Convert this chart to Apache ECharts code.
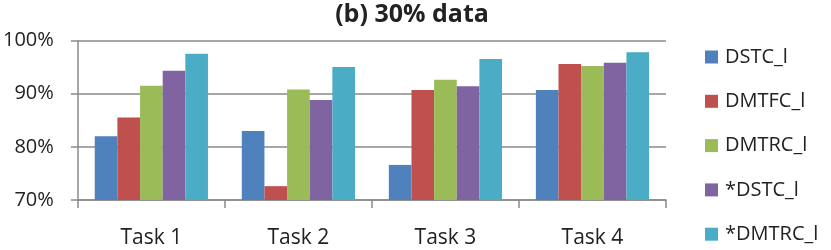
<!DOCTYPE html>
<html><head><meta charset="utf-8">
<script src="https://cdn.jsdelivr.net/npm/echarts@6/dist/echarts.min.js"></script>
<style>html,body{margin:0;padding:0;background:#fff}#c{width:831px;height:250px}</style>
</head><body><div id="c"></div>
<script>
const categories = ['Task 1', 'Task 2', 'Task 3', 'Task 4'];
const seriesNames = ['DSTC_l', 'DMTFC_l', 'DMTRC_l', '*DSTC_l', '*DMTRC_l'];
const DSTC_l = [82.0, 83.0, 76.6, 90.7];
const DMTFC_l = [85.5, 72.6, 90.7, 95.6];
const DMTRC_l = [91.5, 90.8, 92.6, 95.2];
const starDSTC_l = [94.3, 88.8, 91.4, 95.8];
const starDMTRC_l = [97.5, 95.0, 96.5, 97.8];
const yTicks = { min: 70, max: 100, interval: 10 };
const colors = ['#4F81BD', '#C0504D', '#9BBB59', '#8064A2', '#4BACC6'];
const seriesData = [DSTC_l, DMTFC_l, DMTRC_l, starDSTC_l, starDMTRC_l];
const FONT = 'Open Sans';
const chart = echarts.init(document.getElementById('c'));
chart.setOption({
  animation: false,
  color: colors,
  title: { text: '(b) 30% data', left: 412, top: 2, textAlign: 'center', padding: 0,
    textStyle: { fontFamily: FONT, fontSize: 25, fontWeight: 'bold', color: '#222' } },
  legend: { orient: 'vertical', left: 705, top: 46, padding: 0, itemWidth: 13, itemHeight: 13, itemGap: 22.3,
    icon: 'rect', data: seriesNames, height: 250,
    textStyle: { fontFamily: FONT, fontSize: 20, lineHeight: 22, color: '#222', padding: [0, 0, 0, 2] } },
  grid: { left: 77, right: 165, top: 40.5, bottom: 50, containLabel: false },
  xAxis: { type: 'category', data: categories,
    axisLine: { lineStyle: { color: '#8a8a8a', width: 1.5 } },
    axisTick: { show: true, length: 8, lineStyle: { color: '#8a8a8a', width: 1.5 } },
    axisLabel: { fontFamily: FONT, fontSize: 21, color: '#222', margin: 28 } },
  yAxis: { type: 'value', min: yTicks.min, max: yTicks.max, interval: yTicks.interval,
    axisLine: { show: true, lineStyle: { color: '#8a8a8a', width: 1.5 } },
    axisTick: { show: true, length: 7, lineStyle: { color: '#8a8a8a', width: 1.5 } },
    splitLine: { lineStyle: { color: '#8a8a8a', width: 1.5 } },
    axisLabel: { fontFamily: FONT, fontSize: 20, color: '#222', margin: 24, formatter: '{value}%' } },
  series: seriesNames.map((n, i) => ({ name: n, type: 'bar', data: seriesData[i],
    barGap: '0%', barCategoryGap: '23%', itemStyle: { color: colors[i] } }))
});
</script></body></html>
